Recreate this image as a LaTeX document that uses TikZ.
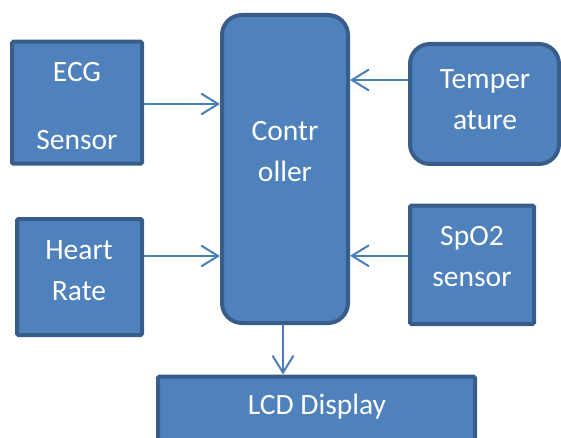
\documentclass[tikz,border=0pt]{standalone}
\usepackage{fontspec}
\setmainfont{Carlito}
\usetikzlibrary{arrows.meta}
\definecolor{blkfill}{HTML}{4F81BD}
\definecolor{blkline}{HTML}{385D8A}
\definecolor{arrline}{HTML}{4A7EBB}

\begin{document}
\begin{tikzpicture}[x=1pt,y=-1pt,
  blk/.style={draw=blkline,fill=blkfill,line width=4pt,rounded corners=1.5pt,inner sep=0pt},
  rblk/.style={blk,rounded corners=20pt},
  txt/.style={text=white,align=center,inner sep=0pt,font=\fontsize{29.5}{41}\selectfont},
  arr/.style={draw=arrline,line width=2pt,-{Straight Barb[length=17pt,width=21pt]}}]
\useasboundingbox (0,0) rectangle (561,438);

% blocks
\node[blk,minimum width=130pt,minimum height=122pt] (ecg) at (77,102.75) {};
\node[blk,minimum width=125pt,minimum height=116pt] (heart) at (79.5,277) {};
\node[rblk,minimum width=126pt,minimum height=308pt] (ctrl) at (285,169) {};
\node[rblk,minimum width=149pt,minimum height=120pt] (temp) at (484.5,104) {};
\node[blk,minimum width=124pt,minimum height=118.5pt] (spo) at (472,264.75) {};
\node[blk,minimum width=317pt,minimum height=83pt] (lcd) at (316.5,418) {};

% texts
\node[txt] (ecgtxt) at (77,106) {ECG\\[27pt]Sensor};
\node[txt] (hearttxt) at (79,271) {Heart\\Rate};
\node[txt] (ctrltxt) at (285,152) {Contr\\oller};
\node[txt] (temptxt) at (485,100) {Temper\\ature};
\node[txt] (spotxt) at (472,257) {SpO2\\sensor};
\node[txt] (lcdtxt) at (317,407) {LCD Display};

% arrows
\draw[arr] ([yshift=-1.25pt]ecg.east) -- ([yshift=-1.25pt]ecg.east -| ctrl.west);
\draw[arr] ([yshift=21pt]heart.east) -- ([yshift=21pt]heart.east -| ctrl.west);
\draw[arr] ([yshift=24pt]temp.west) -- ([yshift=24pt]temp.west -| ctrl.east);
\draw[arr] ([yshift=9pt]spo.west) -- ([yshift=9pt]spo.west -| ctrl.east);
\draw[arr] ([xshift=-2pt]ctrl.south) -- ([xshift=-2pt]ctrl.south |- lcd.north);
\end{tikzpicture}
\end{document}
